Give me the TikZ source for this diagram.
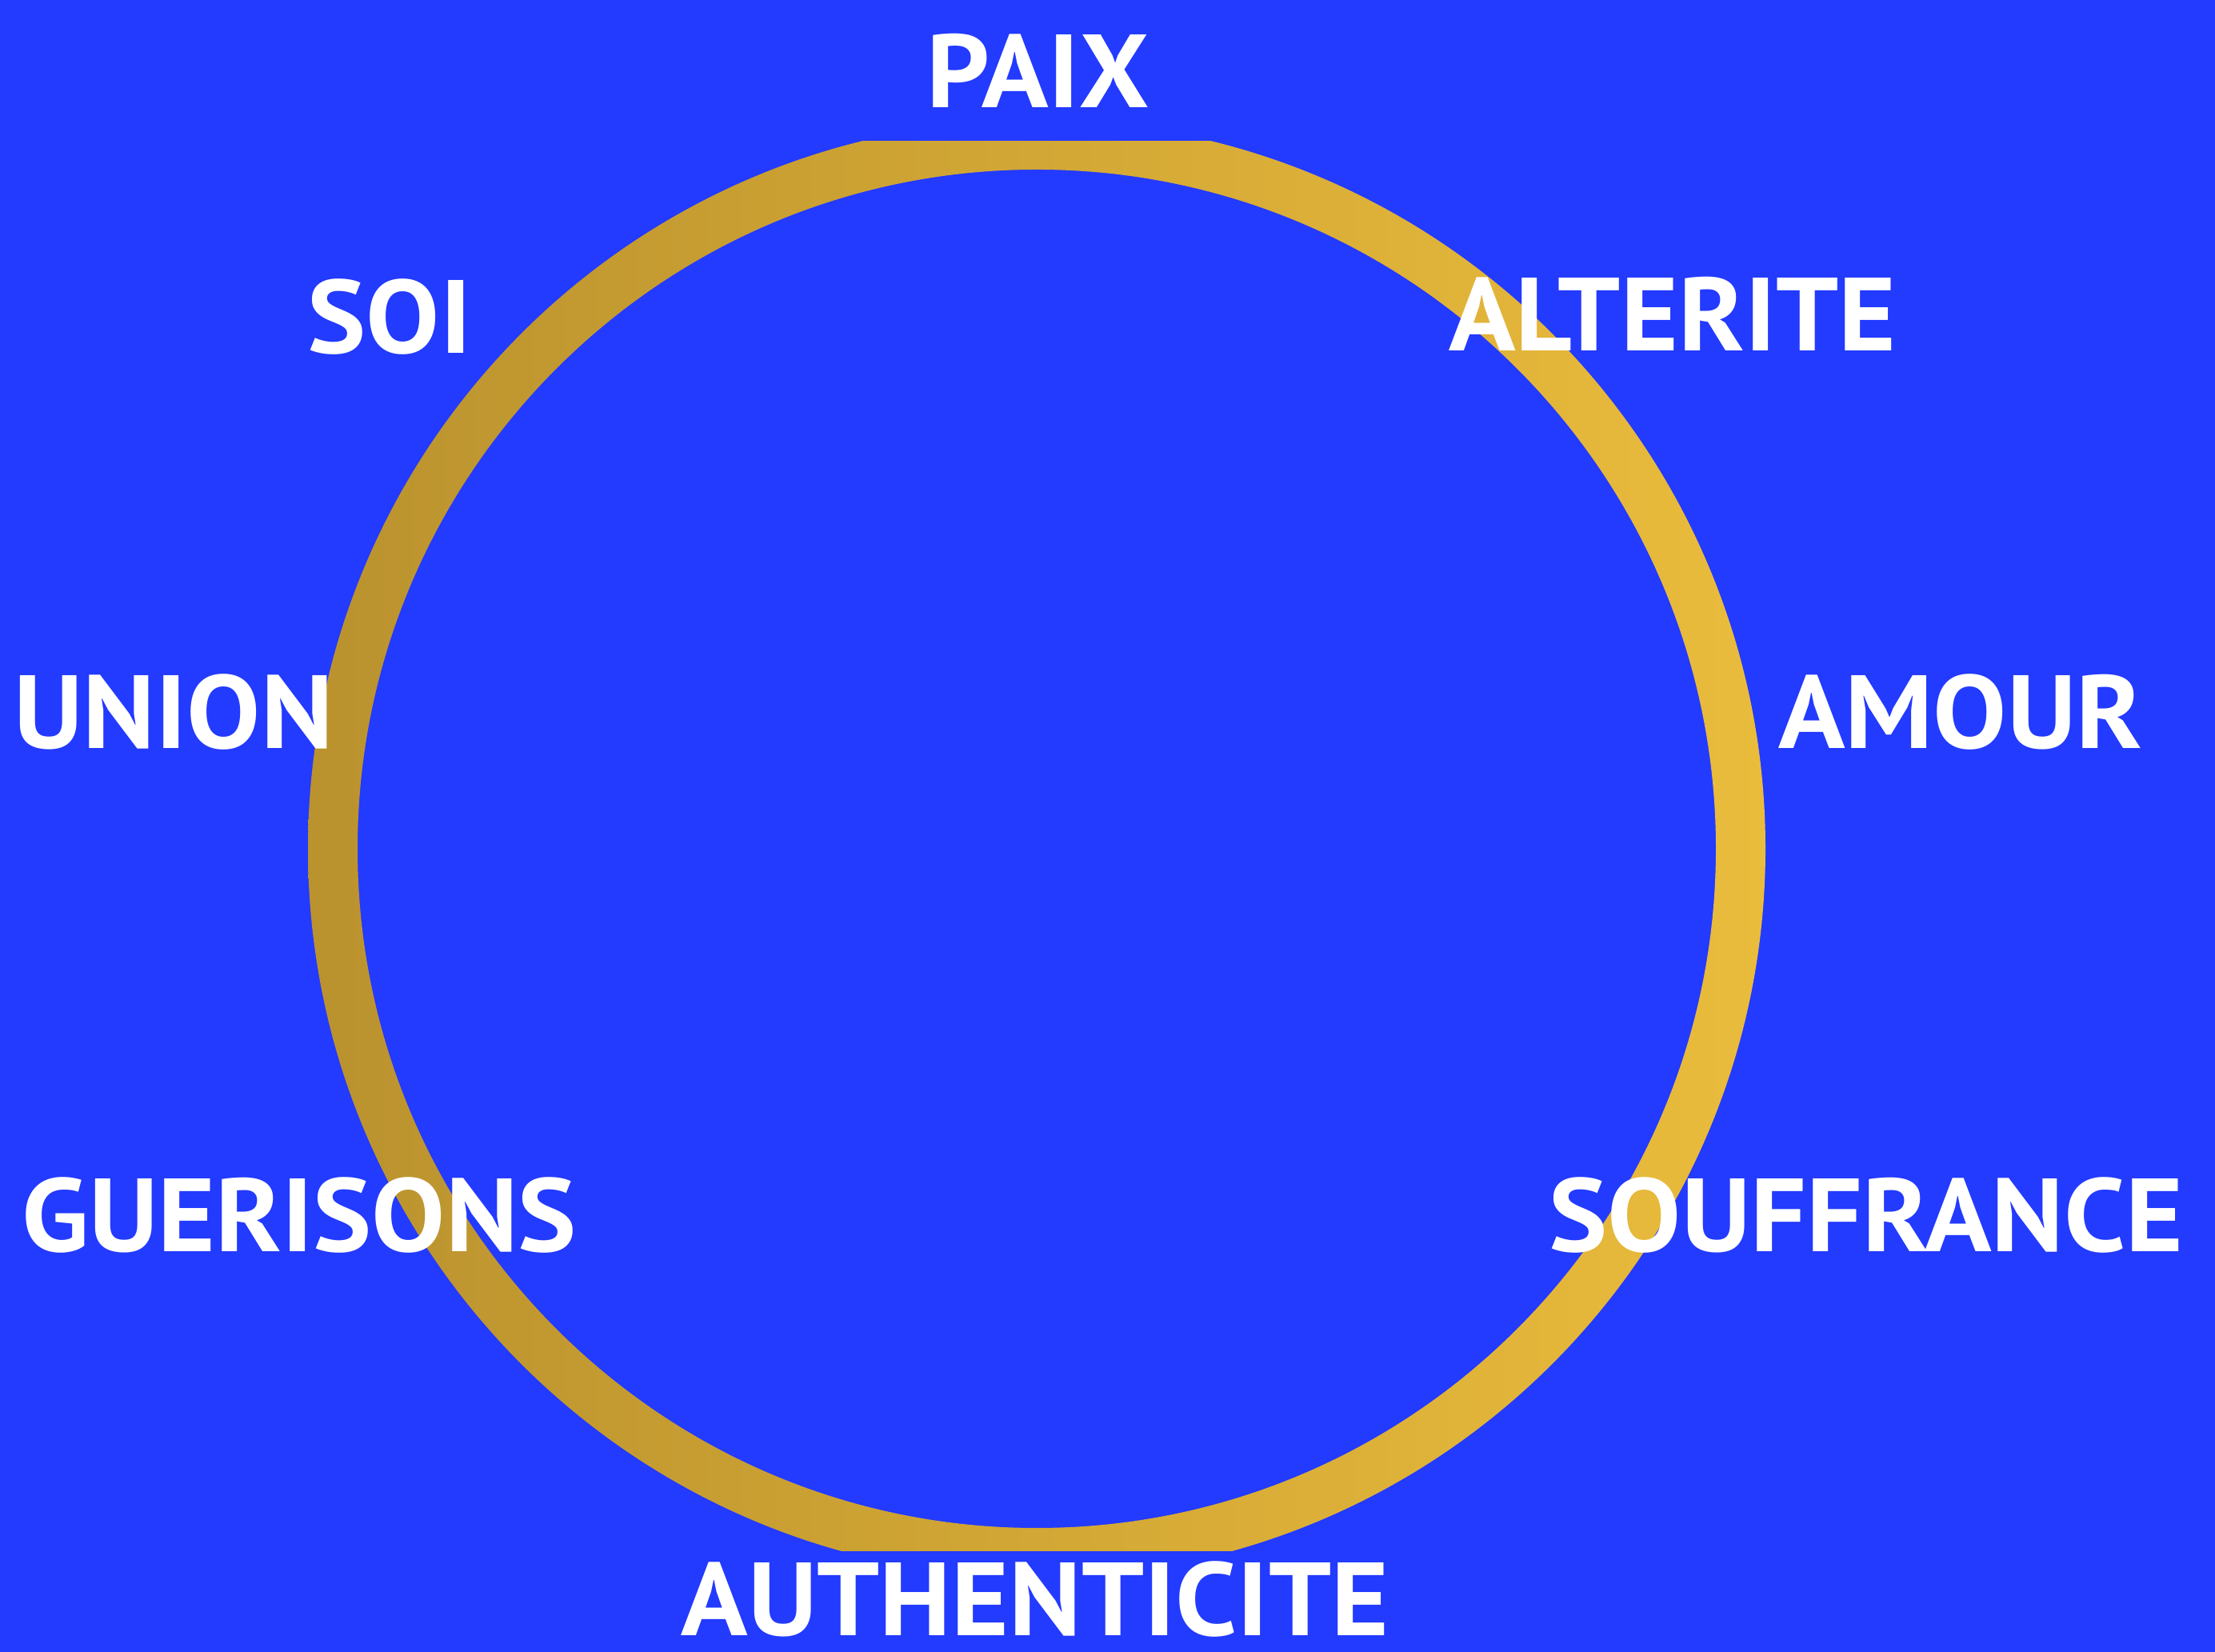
\documentclass[tikz,border=0pt]{standalone}
\usepackage{fontspec}
\setmainfont[FakeStretch=1.06]{PT Sans}
\usepackage{xcolor}
\usetikzlibrary{positioning}
\definecolor{bgblue}{RGB}{35, 58, 255}
\definecolor{golddark}{RGB}{186, 146, 46}
\definecolor{goldlight}{RGB}{234, 188, 60}

\begin{document}
\begin{tikzpicture}[
  word/.style={text=white, inner sep=0pt, anchor=center,
               font=\fontsize{37}{40}\selectfont\bfseries}
]
\useasboundingbox (0,0) rectangle (27.69,20.65);
\fill[bgblue] (0,0) rectangle (27.69,20.65);

% gold ring, flattened at top and bottom
\begin{scope}
  \clip (0,1.26) rectangle (27.69,18.88);
  \shade[even odd rule, left color=golddark, right color=goldlight]
    (12.96,10.04) circle (9.11) (12.96,10.04) circle (8.49);
\end{scope}

\node[word] (paix)   at (12.98,19.77) {PAIX};
\node[word] (soi)    at (4.87,16.69)  {SOI};
\node[word] (alter)  at (20.91,16.73) {ALTERITE};
\node[word] (union)  at (2.17,11.75)  {UNION};
\node[word] (amour)  at (24.51,11.75) {AMOUR};
\node[word] (guer)   at (3.74,5.46)   {GUERISONS};
\node[word] (souf)   at (23.33,5.46)  {SOUFFRANCE};
\node[word] (authen) at (12.94,0.66)  {AUTHENTICITE};
\end{tikzpicture}
\end{document}
